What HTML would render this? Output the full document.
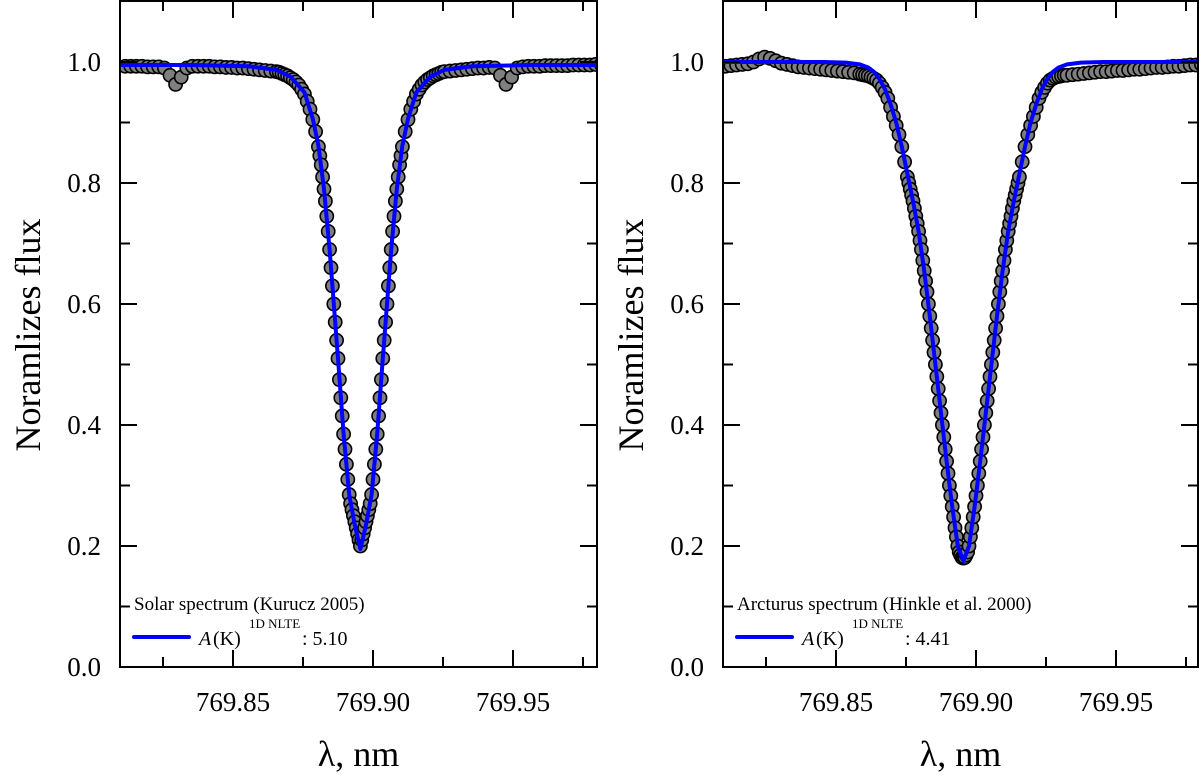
<!DOCTYPE html>
<html><head><meta charset="utf-8"><style>
html,body{margin:0;padding:0;background:#fff}
svg{display:block}
</style></head><body>
<svg id="chart" width="1200" height="776" viewBox="0 0 1200 776" xmlns="http://www.w3.org/2000/svg" font-family="'Liberation Serif', serif">
<defs>
<clipPath id="clipL"><rect x="121" y="2" width="475" height="664"/></clipPath>
<clipPath id="clipR"><rect x="724" y="2" width="473" height="664"/></clipPath>
</defs>
</svg>
<script>
// ---- data: solar panel ----
const solarObsLam = [769.8115,769.8135,769.8155,769.8175,769.8195,769.8215,769.8235,769.8255,769.8275,769.8295,769.8315,769.8335,769.8355,769.8375,769.8395,769.8415,769.8435,769.8455,769.8475,769.8495,769.8515,769.8535,769.8555,769.8575,769.8595,769.8615,769.8635,
769.8655,769.8665,769.8675,769.8685,769.8695,769.8705,769.8715,769.8725,769.8735,769.8745,769.8755,769.8765,769.8775,769.8785,769.8795,769.8805,
769.8810,769.8815,769.8820,769.8825,769.8830,769.8835,769.8840,769.8845,769.8850,769.8855,769.8860,769.8865,769.8870,769.8875,769.8880,769.8885,769.8890,769.8895,769.8900,769.8905,769.8910,769.8915,769.8920,769.8925,769.8930,769.8935,769.8940,769.8945,769.8950,769.8955,
769.8960,769.8965,769.8970,769.8975,769.8980,769.8985,769.8990,769.8995,769.9000,769.9005,769.9010,769.9015,769.9020,769.9025,769.9030,769.9035,769.9040,769.9045,769.9050,769.9055,769.9060,769.9065,769.9070,769.9075,769.9080,769.9085,769.9090,769.9095,769.9100,769.9105,
769.9115,769.9125,769.9135,769.9145,769.9155,769.9165,769.9175,769.9185,769.9195,769.9205,769.9215,769.9225,769.9235,769.9245,769.9255,
769.9275,769.9295,769.9315,769.9335,769.9355,769.9375,769.9395,769.9415,769.9435,769.9455,769.9475,769.9495,769.9515,769.9535,769.9555,769.9575,769.9595,769.9615,769.9635,769.9655,769.9675,769.9695,769.9715,769.9735,769.9755,769.9775,769.9795,769.9815,769.9835];
const solarObsFlux = [.993,.993,.993,.993,.992,.992,.992,.99,.978,.963,.975,.99,.993,.993,.993,.993,.992,.992,.991,.991,.99,.99,.989,.988,.987,.986,.985,
.984,.983,.981,.979,.977,.974,.971,.967,.962,.955,.947,.935,.922,.905,.885,.86,
.845,.83,.81,.79,.77,.745,.72,.69,.66,.63,.60,.57,.54,.51,.475,.445,.415,.385,.36,.335,.31,.285,.27,.26,.25,.24,.23,.22,.21,.20,
.21,.22,.23,.24,.25,.26,.27,.285,.31,.335,.36,.385,.415,.445,.475,.51,.54,.57,.60,.63,.66,.69,.72,.745,.77,.79,.81,.83,.845,.86,
.885,.905,.922,.935,.947,.955,.962,.967,.971,.974,.977,.979,.981,.983,.984,
.985,.986,.987,.988,.989,.99,.99,.991,.99,.978,.963,.975,.99,.992,.993,.993,.993,.994,.994,.994,.994,.994,.995,.995,.995,.995,.996,.996,.996];
const solarModelLam = [769.810,769.8355,769.8555,769.8655,769.8705,769.8755,769.8785,769.8805,769.8825,769.8845,769.8860,769.8875,769.8895,769.8915,769.8935,769.8955,769.8975,769.8995,769.9015,769.9035,769.9050,769.9065,769.9085,769.9105,769.9125,769.9155,769.9205,769.9255,769.9355,769.9555,769.984];
const solarModelFlux = [.995,.995,.993,.987,.976,.95,.906,.862,.79,.69,.60,.51,.385,.285,.235,.195,.235,.285,.385,.51,.60,.69,.79,.862,.906,.95,.976,.987,.993,.995,.995];

// ---- data: Arcturus panel ----
const arctObsLam = [769.8105,769.8125,769.8145,769.8165,769.8185,769.8205,769.8225,769.8245,769.8265,769.8285,769.8305,769.8325,769.8345,769.8365,769.8385,769.8405,769.8425,769.8445,769.8465,769.8485,769.8505,769.8525,769.8545,769.8565,769.8585,
769.8595,769.8605,769.8615,769.8625,769.8635,769.8645,769.8655,769.8665,769.8675,769.8685,769.8695,769.8705,769.8715,769.8725,769.8735,769.8745,
769.8755,769.8760,769.8765,769.8770,769.8775,769.8780,769.8785,769.8790,769.8795,769.8800,769.8805,769.8810,769.8815,769.8820,769.8825,769.8830,769.8835,769.8840,769.8845,769.8850,769.8855,769.8860,769.8865,769.8870,769.8875,769.8880,769.8885,769.8890,769.8895,769.8900,769.8905,769.8910,769.8915,769.8920,769.8925,769.8930,769.8935,769.8940,769.8945,769.8950,769.8955,
769.8960,769.8965,769.8970,769.8975,769.8980,769.8985,769.8990,769.8995,769.9000,769.9005,769.9010,769.9015,769.9020,769.9025,769.9030,769.9035,769.9040,769.9045,769.9050,769.9055,769.9060,769.9065,769.9070,769.9075,769.9080,769.9085,769.9090,769.9095,769.9100,769.9105,769.9110,769.9115,769.9120,769.9125,769.9130,769.9135,769.9140,769.9145,769.9150,769.9155,
769.9165,769.9175,769.9185,769.9195,769.9205,769.9215,769.9225,769.9235,769.9245,769.9255,769.9265,769.9275,769.9285,769.9295,769.9305,769.9315,
769.9325,769.9345,769.9365,769.9385,769.9405,769.9425,769.9445,769.9465,769.9485,769.9505,769.9525,769.9545,769.9565,769.9585,769.9605,769.9625,769.9645,769.9665,769.9685,769.9705,769.9725,769.9745,769.9765,769.9785,769.9805];
const arctObsFlux = [.993,.994,.995,.996,.997,1.0,1.005,1.008,1.006,1.002,.998,.996,.994,.992,.991,.99,.989,.988,.987,.986,.985,.984,.983,.982,.98,
.979,.978,.977,.975,.973,.97,.965,.958,.95,.94,.925,.91,.895,.88,.86,.835,
.81,.80,.79,.78,.77,.758,.745,.733,.72,.705,.69,.672,.655,.638,.62,.60,.58,.56,.54,.52,.50,.48,.46,.44,.42,.40,.38,.36,.34,.32,.30,.283,.265,.248,.23,.215,.20,.19,.185,.181,.18,
.181,.185,.19,.20,.215,.23,.248,.265,.283,.30,.32,.34,.36,.38,.40,.42,.44,.46,.48,.50,.52,.54,.56,.58,.60,.62,.638,.655,.672,.69,.705,.72,.733,.745,.758,.77,.78,.79,.80,.81,
.835,.86,.88,.895,.91,.925,.94,.95,.958,.965,.97,.973,.975,.976,.977,.978,
.978,.979,.98,.981,.982,.983,.984,.984,.985,.986,.986,.987,.988,.988,.989,.99,.991,.991,.992,.993,.993,.994,.995,.995,.996];
const arctModelLam = [769.810,769.8455,769.8535,769.8585,769.8615,769.8635,769.8655,769.8675,769.8695,769.8715,769.8735,769.8755,769.8775,769.8795,769.8815,769.8835,769.8855,769.8875,769.8895,769.8915,769.8935,769.8955,769.8975,769.8995,769.9015,769.9035,769.9055,769.9075,769.9095,769.9115,769.9135,769.9155,769.9175,769.9195,769.9215,769.9235,769.9255,769.9275,769.9295,769.9325,769.9375,769.9455,769.981];
const arctModelFlux = [1.0,1.0,.999,.996,.991,.984,.972,.955,.93,.90,.86,.815,.77,.72,.655,.58,.50,.42,.34,.265,.20,.175,.20,.265,.34,.42,.50,.58,.655,.72,.77,.815,.86,.90,.93,.955,.972,.984,.991,.996,.999,1.0,1.0];

// ---- tick labels ----
const xTickVals = [769.85, 769.90, 769.95];
const xTickLabels = ["769.85", "769.90", "769.95"];
const xMinorVals = [769.825, 769.875, 769.925, 769.975];
const yTickVals = [0, 0.2, 0.4, 0.6, 0.8, 1.0];
const yTickLabels = ["0.0", "0.2", "0.4", "0.6", "0.8", "1.0"];
const yMinorVals = [0.1, 0.3, 0.5, 0.7, 0.9];

const NS = "http://www.w3.org/2000/svg";
const FONT = "'Liberation Serif', serif";
const svg = document.getElementById("chart");
function mk(tag, attrs, parent) {
  const e = document.createElementNS(NS, tag);
  for (const k in attrs) e.setAttribute(k, attrs[k]);
  if (tag === "text") e.setAttribute("font-family", FONT);
  (parent || svg).appendChild(e);
  return e;
}
const Y0 = 667, YS = 605, TOP = 1;
function yScale(v) { return Y0 - YS * v; }

function drawPanel(cfg) {
  const g = mk("g", {});
  
  
  const x = v => cfg.x0 + (v - 769.81) * 2800;
  const L = cfg.left, R = cfg.right;

  const mg = mk("g", {"clip-path": "url(#" + cfg.clip + ")"}, g);
  
  
  for (let i = 0; i < cfg.obsLam.length; i++) {
    const c = mk("circle", {cx: x(cfg.obsLam[i]).toFixed(2), cy: yScale(cfg.obsFlux[i]).toFixed(2), r: 6.6, fill: "#7f7f7f", stroke: "#000", "stroke-width": 1.6}, mg);
    
    
  }
  let d = "";
  for (let i = 0; i < cfg.modLam.length; i++) d += (i ? "L" : "M") + x(cfg.modLam[i]).toFixed(2) + "," + yScale(cfg.modFlux[i]).toFixed(2);
  const ml = mk("path", {d: d, fill: "none", stroke: "#0000ff", "stroke-width": 4, "stroke-linejoin": "round", "clip-path": "url(#" + cfg.clip + ")"}, g);
  
  

  const fr = mk("rect", {x: L, y: TOP, width: R - L, height: Y0 - TOP, fill: "none", stroke: "#000", "stroke-width": 2}, g);
  
  

  xTickVals.forEach((v, i) => {
    const xx = x(v);
    mk("line", {x1: xx, x2: xx, y1: Y0, y2: Y0 - 17, stroke: "#000", "stroke-width": 2}, g);
    mk("line", {x1: xx, x2: xx, y1: TOP, y2: TOP + 17, stroke: "#000", "stroke-width": 2}, g);
    const t = mk("text", {x: xx, y: 711, "text-anchor": "middle", "font-size": 27}, g);
    t.textContent = xTickLabels[i];
    
    
  });
  xMinorVals.forEach(v => {
    const xx = x(v);
    mk("line", {x1: xx, x2: xx, y1: Y0, y2: Y0 - 10, stroke: "#000", "stroke-width": 2}, g);
    mk("line", {x1: xx, x2: xx, y1: TOP, y2: TOP + 10, stroke: "#000", "stroke-width": 2}, g);
  });
  yTickVals.forEach((v, i) => {
    const yy = yScale(v);
    mk("line", {x1: L, x2: L + 17, y1: yy, y2: yy, stroke: "#000", "stroke-width": 2}, g);
    mk("line", {x1: R, x2: R - 17, y1: yy, y2: yy, stroke: "#000", "stroke-width": 2}, g);
    const t = mk("text", {x: L - 19, y: yy + 9, "text-anchor": "end", "font-size": 27}, g);
    t.textContent = yTickLabels[i];
    
    
  });
  yMinorVals.forEach(v => {
    const yy = yScale(v);
    mk("line", {x1: L, x2: L + 10, y1: yy, y2: yy, stroke: "#000", "stroke-width": 2}, g);
    mk("line", {x1: R, x2: R - 10, y1: yy, y2: yy, stroke: "#000", "stroke-width": 2}, g);
  });

  const xt = mk("text", {x: (L + R) / 2, y: 766, "text-anchor": "middle", "font-size": 36}, g);
  xt.textContent = "λ, nm";
  
  
  const yt = mk("text", {x: 0, y: 0, "text-anchor": "middle", "font-size": 36, transform: "translate(" + (L - 80) + ",335) rotate(-90)"}, g);
  yt.textContent = "Noramlizes flux";
  
  

  const lg = mk("g", {}, g);
  
  
  const lt = mk("text", {x: L + 14, y: 610, "font-size": 19}, lg);
  lt.textContent = cfg.title;
  
  
  const ll = mk("line", {x1: L + 14, x2: L + 69, y1: 637, y2: 637, stroke: "#0000ff", "stroke-width": 4, "stroke-linecap": "round"}, lg);
  
  

  const le = mk("g", {}, lg);
  
  
  const ta = mk("text", {x: L + 79, y: 645, "font-size": 20, "font-style": "italic"}, le);
  ta.textContent = "A";
  const tk = mk("text", {x: L + 93, y: 645, "font-size": 20}, le);
  tk.textContent = "(K)";
  const ts = mk("text", {x: L + 129, y: 628, "font-size": 13}, le);
  ts.textContent = "1D NLTE";
  const tv = mk("text", {x: L + 182, y: 645, "font-size": 20}, le);
  tv.textContent = ": " + cfg.value;
}

drawPanel({name: "solar-panel", x0: 121, left: 120, right: 597, clip: "clipL",
  obsLam: solarObsLam, obsFlux: solarObsFlux, modLam: solarModelLam, modFlux: solarModelFlux,
  title: "Solar spectrum (Kurucz 2005)", value: "5.10"});
drawPanel({name: "arcturus-panel", x0: 724, left: 723, right: 1198, clip: "clipR",
  obsLam: arctObsLam, obsFlux: arctObsFlux, modLam: arctModelLam, modFlux: arctModelFlux,
  title: "Arcturus spectrum (Hinkle et al. 2000)", value: "4.41"});
</script>
</body></html>
